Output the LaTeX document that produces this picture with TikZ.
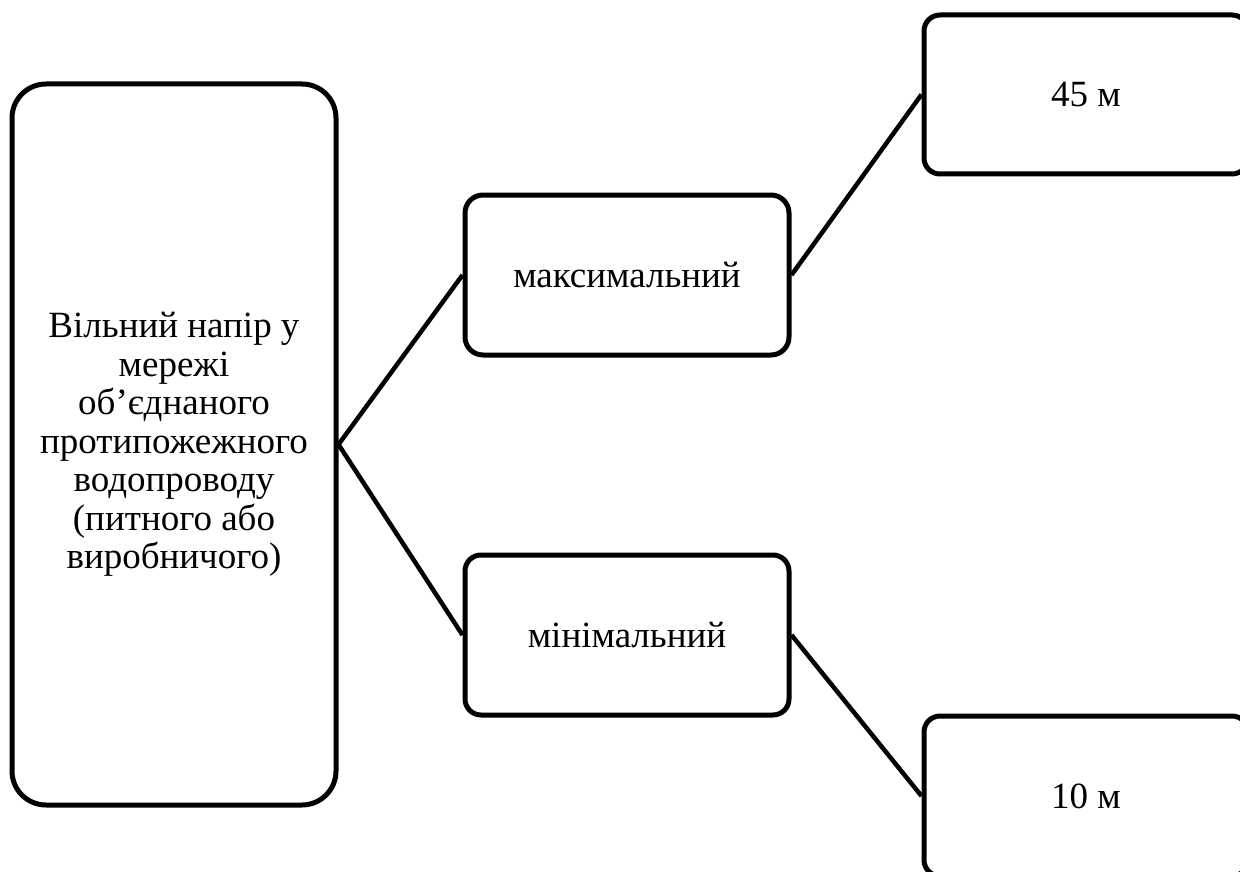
\documentclass[tikz,border=0pt]{standalone}
\usepackage{fontspec}
\setmainfont{Liberation Serif}
\begin{document}
\begin{tikzpicture}[x=1pt,y=-1pt,
  box/.style={draw=black, line width=5pt, inner sep=0pt, align=center,
    font=\fontsize{37}{38.5}\selectfont},
  link/.style={draw=black, line width=4.5pt}]
\clip (0,0) rectangle (1240,872);
\useasboundingbox (0,0) rectangle (1240,872);
\node[box, rounded corners=34pt, minimum width=324pt, minimum height=721pt] (main) at (174,444.5)
  {Вільний напір у\\мережі\\об’єднаного\\протипожежного\\водопроводу\\(питного або\\виробничого)};
\node[box, rounded corners=18pt, minimum width=324pt, minimum height=160pt] (max) at (627,275) {максимальний};
\node[box, rounded corners=16pt, minimum width=324pt, minimum height=160pt] (min) at (627,635) {мінімальний};
\node[box, rounded corners=16pt, minimum width=324pt, minimum height=159pt] (v45) at (1086,94.5) {45 м};
\node[box, rounded corners=16pt, minimum width=324pt, minimum height=160pt] (v10) at (1086,796) {10 м};
\draw[link] (main.east) -- (max.west);
\draw[link] (main.east) -- (min.west);
\draw[link] (max.east) -- (v45.west);
\draw[link] (min.east) -- (v10.west);
\end{tikzpicture}
\end{document}
